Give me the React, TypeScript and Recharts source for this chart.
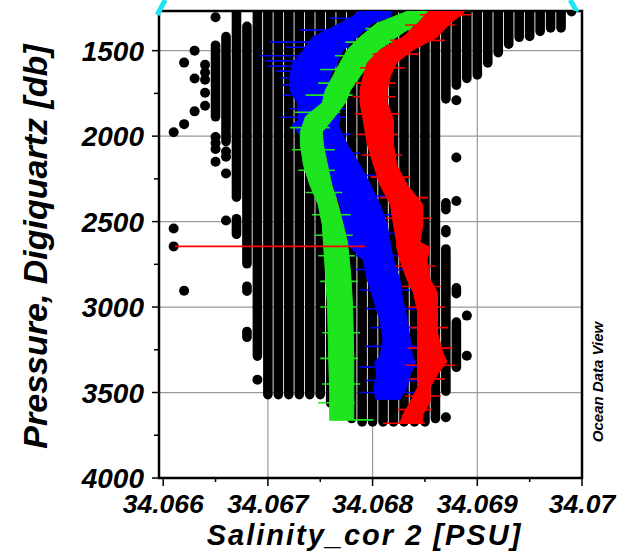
import React from 'react';
import {
  ScatterChart,
  Scatter,
  XAxis,
  YAxis,
  CartesianGrid,
  ReferenceLine,
  ReferenceArea,
} from 'recharts';

const FONT = '"Liberation Sans", Arial, Helvetica, sans-serif';

// ---------- axes ----------
const xDomain: [number, number] = [34.06596, 34.07];
const yDomain: [number, number] = [1268, 4000];
const xMajorTicks = [34.066, 34.067, 34.068, 34.069, 34.07];
const xMajorLabels = ['34.066', '34.067', '34.068', '34.069', '34.07'];
const xMinorTicks = [34.0665, 34.0675, 34.0685, 34.0695];
const yMajorTicks = [1500, 2000, 2500, 3000, 3500, 4000];
const yMajorLabels = ['1500', '2000', '2500', '3000', '3500', '4000'];
const yMinorTicks = [1750, 2250, 2750, 3250, 3750];
const xGridValues = [34.067, 34.068, 34.069];
const yGridValues = [1500, 2000, 2500, 3000, 3500];

const xTitle = 'Salinity_cor 2 [PSU]';
const yTitle = 'Pressure, Digiquartz [db]';
const watermark = 'Ocean Data View';

// ---------- black station data: dense columns [salinity, pressure from, pressure to] ----------
const blackColumns: [number, number, number][] = [
  [34.0665, 1468, 1887],
  [34.0666, 1418, 2032],
  [34.0667, 1250, 2357],
  [34.0667, 2483, 2574],
  [34.0668, 1358, 2747],
  [34.0668, 2878, 2907],
  [34.0668, 3143, 3177],
  [34.0669, 1250, 3287],
  [34.067, 1250, 3512],
  [34.0671, 1250, 3512],
  [34.0672, 1250, 3512],
  [34.0673, 1250, 3512],
  [34.0674, 1250, 3512],
  [34.0675, 1250, 3512],
  [34.0676, 1250, 3562],
  [34.0677, 1250, 3632],
  [34.0678, 1250, 3652],
  [34.0679, 1250, 3672],
  [34.068, 1250, 3672],
  [34.0681, 1250, 3672],
  [34.0682, 1250, 3672],
  [34.0683, 1250, 3672],
  [34.0684, 1250, 3672],
  [34.0685, 1250, 3672],
  [34.0686, 1250, 3652],
  [34.0687, 1250, 1782],
  [34.0687, 2390, 2430],
  [34.0687, 2548, 2565],
  [34.0687, 2660, 3492],
  [34.0688, 1250, 1702],
  [34.0688, 2888, 2922],
  [34.0688, 3088, 3352],
  [34.0689, 1250, 1662],
  [34.069, 1250, 1642],
  [34.0691, 1250, 1572],
  [34.0692, 1250, 1512],
  [34.0693, 1250, 1462],
  [34.0694, 1250, 1422],
  [34.0695, 1250, 1417],
  [34.0696, 1250, 1387],
  [34.0697, 1250, 1367],
  [34.0698, 1250, 1367],
  [34.0699, 1250, 1272],
];

// isolated black samples [salinity, pressure]
const blackDots: [number, number][] = [
  [34.0661, 1977], [34.0661, 2540], [34.0661, 2645],
  [34.0662, 1570], [34.0662, 1930], [34.0662, 2905],
  [34.0663, 1500], [34.0663, 1663], [34.0663, 1855],
  [34.0664, 1583], [34.0664, 1628], [34.0664, 1670], [34.0664, 1746], [34.0664, 1822],
  [34.0665, 1305], [34.0665, 2005], [34.0665, 2040], [34.0665, 2075], [34.0665, 2150],
  [34.0666, 2090], [34.0666, 2120], [34.0666, 2218], [34.0666, 2494],
  [34.0669, 3425],
  [34.0687, 3645],
  [34.0688, 1790], [34.0688, 2125], [34.0688, 2380],
  [34.0689, 3050], [34.0689, 3285],
];

// ---------- coloured profiles: [pressure, salinity min, salinity max] ----------
const blueBand: [number, number, number][] = [
  [1250, 34.06791, 34.0682], [1300, 34.06781, 34.06817], [1340, 34.06769, 34.068],
  [1420, 34.06743, 34.06785], [1495, 34.06734, 34.06772], [1570, 34.06724, 34.06766],
  [1650, 34.06721, 34.06759], [1730, 34.06721, 34.06759], [1805, 34.06728, 34.06766],
  [1905, 34.06729, 34.06769], [1935, 34.06723, 34.06767], [2050, 34.06738, 34.06776],
  [2170, 34.0675, 34.06788], [2285, 34.06762, 34.06798], [2400, 34.06769, 34.06807],
  [2520, 34.06772, 34.06814], [2635, 34.06776, 34.06817], [2725, 34.06791, 34.0682],
  [2840, 34.06795, 34.06826], [2960, 34.06801, 34.06829], [3075, 34.06807, 34.06833],
  [3190, 34.0681, 34.06836], [3290, 34.06807, 34.06838], [3320, 34.06802, 34.06841],
  [3395, 34.06804, 34.06836], [3470, 34.06801, 34.06833], [3540, 34.06803, 34.06826],
];
const greenBand: [number, number, number][] = [
  [1250, 34.0684, 34.0686], [1280, 34.06829, 34.06855], [1340, 34.06804, 34.06843],
  [1420, 34.06788, 34.06823], [1495, 34.06776, 34.06807], [1570, 34.06769, 34.06798],
  [1650, 34.06762, 34.06788], [1730, 34.06755, 34.06779], [1805, 34.06752, 34.06774],
  [1885, 34.06736, 34.06764], [1975, 34.06731, 34.06752], [2050, 34.06731, 34.06753],
  [2170, 34.06734, 34.06757], [2285, 34.0674, 34.06761], [2400, 34.06748, 34.06767],
  [2520, 34.06752, 34.06772], [2620, 34.06753, 34.06776], [2800, 34.06755, 34.06779],
  [3000, 34.06757, 34.06781], [3290, 34.06758, 34.06782], [3500, 34.06759, 34.06782],
  [3660, 34.06759, 34.06782],
];
const redBand: [number, number, number][] = [
  [1250, 34.06856, 34.06888], [1280, 34.06852, 34.06887], [1340, 34.06843, 34.06874],
  [1420, 34.06829, 34.06862], [1495, 34.06807, 34.06839], [1570, 34.06795, 34.06823],
  [1650, 34.06791, 34.06817], [1730, 34.06788, 34.06814], [1805, 34.06788, 34.06814],
  [1905, 34.06791, 34.0682], [2050, 34.06795, 34.0682], [2170, 34.06801, 34.06823],
  [2285, 34.06807, 34.06833], [2400, 34.06817, 34.06848], [2520, 34.0682, 34.06848],
  [2620, 34.06823, 34.06845], [2650, 34.06823, 34.06855], [2725, 34.06826, 34.06852],
  [2840, 34.06833, 34.06855], [2915, 34.06839, 34.06862], [3030, 34.06843, 34.06862],
  [3150, 34.06843, 34.06862], [3265, 34.06843, 34.06867], [3320, 34.06843, 34.06871],
  [3395, 34.06843, 34.06862], [3470, 34.06843, 34.06855], [3555, 34.06836, 34.06855],
  [3630, 34.06829, 34.06848], [3680, 34.06826, 34.06848],
];

// error whiskers [pressure, salinity low, salinity high]
const blueWhiskers: [number, number, number][] = [
  [1310, 34.06759, 34.06822], [1380, 34.06731, 34.06807], [1450, 34.06702, 34.06788],
  [1480, 34.06717, 34.06779], [1530, 34.06693, 34.06769], [1560, 34.06697, 34.06764],
  [1590, 34.067, 34.06769], [1620, 34.06707, 34.06759], [1660, 34.06712, 34.06774],
  [1700, 34.06714, 34.06769], [1760, 34.06715, 34.06779], [1840, 34.06721, 34.06774],
  [1890, 34.06712, 34.06774], [1990, 34.06731, 34.06779], [2100, 34.06736, 34.06788],
  [2230, 34.06745, 34.06803], [2350, 34.06759, 34.06812], [2460, 34.06764, 34.06822],
  [2570, 34.06769, 34.06826], [2700, 34.06774, 34.06826], [2780, 34.06783, 34.06831],
  [2900, 34.06788, 34.06836], [3010, 34.06793, 34.06841], [3120, 34.06798, 34.06845],
  [3230, 34.06793, 34.06845], [3350, 34.06788, 34.06855], [3430, 34.06793, 34.0685],
  [3500, 34.06788, 34.06841],
];
const greenWhiskers: [number, number, number][] = [
  [1300, 34.06822, 34.06865], [1370, 34.06793, 34.0685], [1450, 34.06774, 34.06822],
  [1530, 34.06764, 34.06807], [1610, 34.0675, 34.06796], [1690, 34.06748, 34.06788],
  [1760, 34.06736, 34.06781], [1860, 34.06726, 34.06769], [1950, 34.06721, 34.06759],
  [2080, 34.06723, 34.06764], [2200, 34.06729, 34.06764], [2330, 34.06736, 34.06771],
  [2460, 34.06742, 34.06779], [2580, 34.06745, 34.06781], [2700, 34.06748, 34.06783],
  [2850, 34.0675, 34.06786], [3000, 34.0675, 34.06785], [3150, 34.06752, 34.06788],
  [3300, 34.0675, 34.06786], [3450, 34.06752, 34.06788], [3560, 34.06748, 34.06783],
  [3660, 34.06759, 34.06801],
];
const redWhiskers: [number, number, number][] = [
  [1290, 34.06845, 34.06895], [1350, 34.06831, 34.06879], [1440, 34.06817, 34.06869],
  [1520, 34.068, 34.06844], [1600, 34.06788, 34.06831], [1690, 34.06783, 34.06822],
  [1770, 34.06781, 34.06822], [1870, 34.06783, 34.06826], [1990, 34.06786, 34.06824],
  [2110, 34.0679, 34.06828], [2240, 34.06798, 34.06836], [2360, 34.06807, 34.06853],
  [2480, 34.06812, 34.06857], [2645, 34.06611, 34.06793], [2760, 34.06822, 34.0686],
  [2880, 34.06828, 34.06865], [3000, 34.06834, 34.06869], [3120, 34.06836, 34.06872],
  [3240, 34.06834, 34.06876], [3340, 34.06831, 34.06879], [3420, 34.06836, 34.06869],
  [3520, 34.06831, 34.06865], [3600, 34.06824, 34.06857], [3680, 34.0681, 34.0685],
];

// cyan callout segments (outside the frame) [[s1,p1],[s2,p2]]
const calloutSegments: [[number, number], [number, number]][] = [
  [[34.065943, 1291], [34.066019, 1203]],
  [[34.069887, 1203], [34.069954, 1274]],
];

// ---------- derived point lists ----------
const columnPoints = blackColumns.flatMap(([s, a, b]) => [{ s, p: a }, { s, p: b }]);
const dotPoints = blackDots.map(([s, p]) => ({ s, p }));
const bandOutline = (band: [number, number, number][]) => [
  ...band.map(([p, lo]) => ({ s: lo, p })),
  ...band.slice().reverse().map(([p, , hi]) => ({ s: hi, p })),
];
const whiskerPoints = (w: [number, number, number][]) =>
  w.flatMap(([p, lo, hi]) => [{ s: lo, p }, { s: hi, p }]);

const xAllTicks = [...xMajorTicks, ...xMinorTicks].sort((a, b) => a - b);
const yAllTicks = [...yMajorTicks, ...yMinorTicks].sort((a, b) => a - b);

const noShape = () => <g />;

const segmentRenderer = (color: string, width: number, cap: 'round' | 'butt') => (props: any) => {
  const pts = props.points || [];
  const out: React.ReactNode[] = [];
  for (let i = 0; i + 1 < pts.length; i += 2) {
    const a = pts[i];
    const b = pts[i + 1];
    out.push(
      <line key={'l' + i} x1={a.x} y1={a.y} x2={b.x} y2={b.y} stroke={color} strokeWidth={width} strokeLinecap={cap} />
    );
  }
  return <g>{out}</g>;
};

const polygonRenderer = (color: string) => (props: any) => {
  const pts = props.points || [];
  if (!pts.length) return <g />;
  const d = 'M' + pts.map((q: any) => `${q.x},${q.y}`).join('L') + 'Z';
  return <path d={d} fill={color} stroke={color} strokeWidth={1} />;
};

const XTick = (props: any) => {
  const { x, y, payload } = props;
  const v = payload.value;
  const idx = xMajorTicks.findIndex((m) => Math.abs(m - v) < 1e-9);
  return (
    <g>
      <line x1={x} y1={y} x2={x} y2={y + (idx >= 0 ? 8 : 4)} stroke="#000" strokeWidth={1.5} />
      {idx >= 0 && (
        <text x={x} y={y + 35} textAnchor="middle" fontFamily={FONT} fontWeight="bold" fontStyle="italic" fontSize={26.5} fill="#000">
          {xMajorLabels[idx]}
        </text>
      )}
    </g>
  );
};

const YTick = (props: any) => {
  const { x, y, payload } = props;
  const v = payload.value;
  const idx = yMajorTicks.findIndex((m) => Math.abs(m - v) < 1e-9);
  return (
    <g>
      <line x1={x} y1={y} x2={x - (idx >= 0 ? 7 : 5)} y2={y} stroke="#000" strokeWidth={1.5} />
      {idx >= 0 && (
        <text x={x - 15} y={y + 10} textAnchor="end" fontFamily={FONT} fontWeight="bold" fontStyle="italic" fontSize={28} fill="#000">
          {yMajorLabels[idx]}
        </text>
      )}
    </g>
  );
};

const renderXTitle = (props: any) => {
  const vb = props.viewBox || { x: 0, y: 0, width: 0, height: 0 };
  return (
    <text x={vb.x + vb.width / 2 - 6} y={vb.y + 67} textAnchor="middle" fontFamily={FONT} fontWeight="bold" fontStyle="italic" fontSize={29} letterSpacing={2} fill="#000">
      {xTitle}
    </text>
  );
};

const renderYTitle = (props: any) => {
  const vb = props.viewBox || { x: 0, y: 0, width: 0, height: 0 };
  const cx = vb.x + 47;
  const cy = vb.y + vb.height / 2 + 2;
  return (
    <text x={cx} y={cy} transform={`rotate(-90 ${cx} ${cy})`} textAnchor="middle" fontFamily={FONT} fontWeight="bold" fontStyle="italic" fontSize={34} fill="#000">
      {yTitle}
    </text>
  );
};

export default function App() {
  return (
    <div style={{ position: 'absolute', left: 0, top: 0, width: 632, height: 552, background: '#fff' }}>
      <ScatterChart width={632} height={552} margin={{ top: 11, right: 50, bottom: 0, left: 0 }}>
        <XAxis
          type="number"
          dataKey="s"
          domain={xDomain}
          allowDataOverflow
          ticks={xAllTicks}
          interval={0}
          height={74}
          axisLine={false}
          tickLine={false}
          tickSize={0}
          tickMargin={0}
          tick={<XTick />}
          label={{ content: renderXTitle } as any}
        />
        <YAxis
          type="number"
          dataKey="p"
          domain={yDomain}
          reversed
          allowDataOverflow
          ticks={yAllTicks}
          interval={0}
          width={159}
          axisLine={false}
          tickLine={false}
          tickSize={0}
          tickMargin={0}
          tick={<YTick />}
          label={{ content: renderYTitle } as any}
        />
        <XAxis xAxisId="g" type="number" dataKey="s" domain={xDomain} allowDataOverflow ticks={xGridValues} hide />
        <YAxis yAxisId="g" type="number" dataKey="p" domain={yDomain} reversed allowDataOverflow ticks={yGridValues} hide />
        <CartesianGrid xAxisId="g" yAxisId="g" stroke="#9a9a9a" strokeWidth={1.2} />

        <Scatter data={columnPoints} shape={noShape} line={segmentRenderer('#000', 9.6, 'round')} lineType="joint" isAnimationActive={false} />
        <Scatter
          data={dotPoints}
          shape={(p: any) => <circle cx={p.cx} cy={p.cy} r={5} fill="#000" />}
          isAnimationActive={false}
        />

        <Scatter data={bandOutline(blueBand)} shape={noShape} line={polygonRenderer('#0000ff')} lineType="joint" isAnimationActive={false} />
        <Scatter data={whiskerPoints(blueWhiskers)} shape={noShape} line={segmentRenderer('#0000ff', 1.6, 'butt')} lineType="joint" isAnimationActive={false} />

        <Scatter data={bandOutline(greenBand)} shape={noShape} line={polygonRenderer('#1ee61e')} lineType="joint" isAnimationActive={false} />
        <Scatter data={whiskerPoints(greenWhiskers)} shape={noShape} line={segmentRenderer('#1ee61e', 1.6, 'butt')} lineType="joint" isAnimationActive={false} />

        <Scatter data={bandOutline(redBand)} shape={noShape} line={polygonRenderer('#ff0000')} lineType="joint" isAnimationActive={false} />
        <Scatter data={whiskerPoints(redWhiskers)} shape={noShape} line={segmentRenderer('#ff0000', 1.6, 'butt')} lineType="joint" isAnimationActive={false} />

        <ReferenceArea
          x1={xDomain[0]}
          x2={xDomain[1]}
          y1={yDomain[0]}
          y2={yDomain[1]}
          fill="none"
          fillOpacity={0}
          stroke="#000"
          strokeWidth={2.5}
          ifOverflow="visible"
        />
        {calloutSegments.map((seg, i) => (
          <ReferenceLine
            key={'c' + i}
            segment={[{ x: seg[0][0], y: seg[0][1] }, { x: seg[1][0], y: seg[1][1] }]}
            stroke="#1de4f2"
            strokeWidth={5}
            ifOverflow="visible"
          />
        ))}
        <text
          x={603}
          y={382}
          transform="rotate(-90 603 382)"
          textAnchor="middle"
          fontFamily={FONT}
          fontWeight="bold"
          fontStyle="italic"
          fontSize={15}
          fill="#000"
        >
          {watermark}
        </text>
      </ScatterChart>
    </div>
  );
}
